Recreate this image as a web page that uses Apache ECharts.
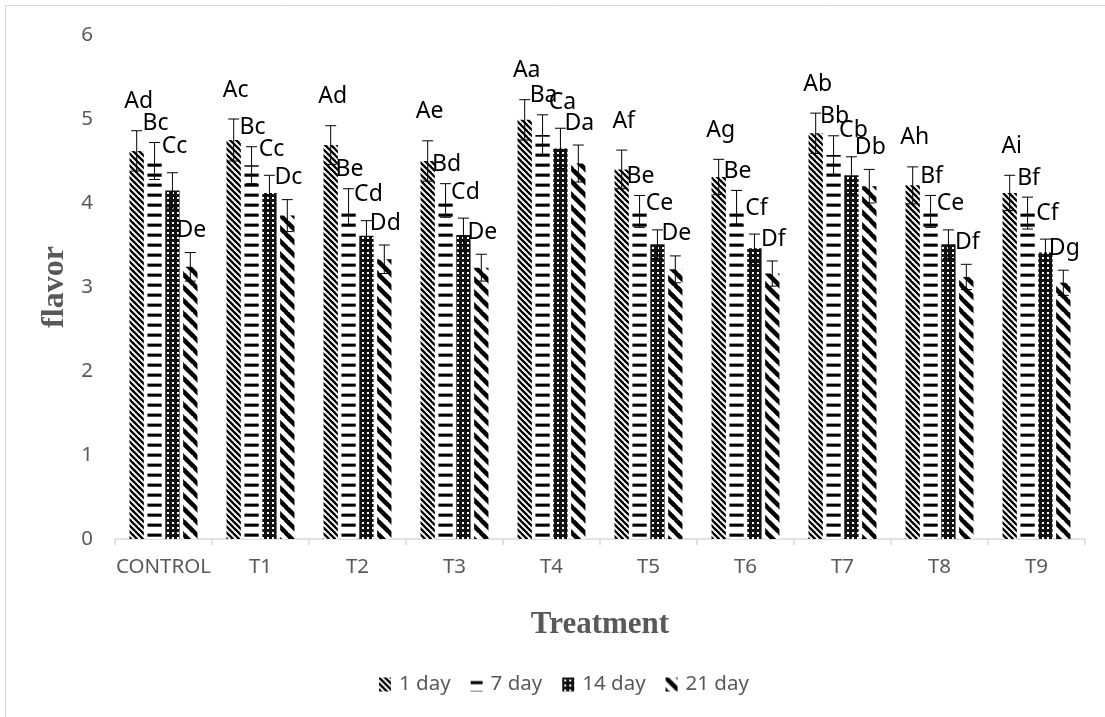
<!DOCTYPE html>
<html>
<head>
<meta charset="utf-8">
<script src="https://cdn.jsdelivr.net/npm/echarts@6/dist/echarts.min.js"></script>
<style>
html,body{margin:0;padding:0;background:#fff;}
#chart{width:1105px;height:717px;}
</style>
</head>
<body>
<div id="chart"></div>
<script>
// ---- data ----
var categories = ['CONTROL','T1','T2','T3','T4','T5','T6','T7','T8','T9'];
var seriesNames = ['1 day','7 day','14 day','21 day'];
var day1  = [4.62, 4.75, 4.69, 4.50, 4.99, 4.40, 4.31, 4.83, 4.21, 4.12];
var day7  = [4.50, 4.45, 3.95, 4.03, 4.81, 3.90, 3.95, 4.57, 3.90, 3.88];
var day14 = [4.15, 4.12, 3.61, 3.62, 4.65, 3.51, 3.46, 4.33, 3.51, 3.41];
var day21 = [3.24, 3.85, 3.33, 3.23, 4.47, 3.21, 3.16, 4.20, 3.12, 3.05];
var err1  = [0.24, 0.25, 0.23, 0.24, 0.24, 0.23, 0.21, 0.24, 0.22, 0.21];
var err7  = [0.22, 0.22, 0.22, 0.20, 0.24, 0.19, 0.20, 0.23, 0.19, 0.19];
var err14 = [0.21, 0.21, 0.18, 0.20, 0.24, 0.17, 0.17, 0.22, 0.17, 0.16];
var err21 = [0.17, 0.19, 0.17, 0.16, 0.22, 0.16, 0.15, 0.20, 0.15, 0.15];
var labels1  = ['Ad','Ac','Ad','Ae','Aa','Af','Ag','Ab','Ah','Ai'];
var labels7  = ['Bc','Bc','Be','Bd','Ba','Be','Be','Bb','Bf','Bf'];
var labels14 = ['Cc','Cc','Cd','Cd','Ca','Ce','Cf','Cb','Ce','Cf'];
var labels21 = ['De','Dc','Dd','De','Da','De','Df','Db','Df','Dg'];
var yTicks = [0, 1, 2, 3, 4, 5, 6];

var values = [day1, day7, day14, day21];
var errors = [err1, err7, err14, err21];
var labels = [labels1, labels7, labels14, labels21];

// ---- patterns ----
function diagPattern(size, lw) {
  var c = document.createElement('canvas');
  c.width = size; c.height = size;
  var ctx = c.getContext('2d');
  ctx.fillStyle = '#fff'; ctx.fillRect(0, 0, size, size);
  ctx.strokeStyle = '#000'; ctx.lineWidth = lw;
  [-size, 0, size].forEach(function (o) {
    ctx.beginPath(); ctx.moveTo(o - 1, -1); ctx.lineTo(o + size + 1, size + 1); ctx.stroke();
  });
  return c;
}
function hPattern() {
  var c = document.createElement('canvas');
  c.width = 16; c.height = 10;
  var ctx = c.getContext('2d');
  ctx.fillStyle = '#fff'; ctx.fillRect(0, 0, 16, 10);
  ctx.fillStyle = '#999'; ctx.fillRect(0, 3, 16, 4);
  ctx.fillStyle = '#000'; ctx.fillRect(0, 4, 16, 2.5);
  return c;
}
function gridPattern() {
  var c = document.createElement('canvas');
  c.width = 5; c.height = 5;
  var ctx = c.getContext('2d');
  ctx.fillStyle = '#111'; ctx.fillRect(0, 0, 5, 5);
  ctx.fillStyle = '#fff'; ctx.fillRect(2, 2, 2, 2);
  return c;
}
var patterns = [
  {image: diagPattern(6, 2.3), repeat: 'repeat'},
  {image: hPattern(), repeat: 'repeat'},
  {image: gridPattern(), repeat: 'repeat'},
  {image: diagPattern(13, 4.5), repeat: 'repeat'}
];

var labelLift = [29, 19, 26, 22];
var labelShift = [2, 1, 2, 1];

var chart = echarts.init(document.getElementById('chart'), null, {renderer: 'canvas'});

var series = [];
seriesNames.forEach(function (name, s) {
  series.push({
    name: name,
    type: 'bar',
    data: values[s],
    barGap: '25%',
    barCategoryGap: '30%',
    itemStyle: {color: patterns[s]},
    emphasis: {disabled: true},
    z: 2
  });
});
seriesNames.forEach(function (name, s) {
  series.push({
    name: name + ' err',
    type: 'custom',
    z: 5,
    silent: true,
    data: values[s].map(function (v, i) { return [i, v, errors[s][i]]; }),
    renderItem: function (params, api) {
      var i = api.value(0), v = api.value(1), e = api.value(2);
      var c = api.coord([i, v]);
      var top = api.coord([i, v + e]);
      var bot = api.coord([i, v - e]);
      var catW = api.size([1, 0])[0];
      var barW = catW * 0.7 / 4.75;
      var gap = barW * 0.25;
      var x = c[0] - catW * 0.35 + barW / 2 + s * (barW + gap);
      var hw = 5.5;
      var ls = {stroke: '#000', lineWidth: 1};
      return {
        type: 'group',
        children: [
          {type: 'line', shape: {x1: x, y1: top[1], x2: x, y2: bot[1]}, style: ls},
          {type: 'line', shape: {x1: x - hw, y1: top[1], x2: x + hw, y2: top[1]}, style: ls},
          {type: 'line', shape: {x1: x - hw, y1: bot[1], x2: x + hw, y2: bot[1]}, style: ls},
          {type: 'text', style: {
            text: labels[s][params.dataIndex],
            x: x + labelShift[s], y: top[1] - labelLift[s],
            align: 'center', verticalAlign: 'middle',
            fontSize: 23, fontFamily: 'Noto Sans', fill: '#000'
          }}
        ]
      };
    }
  });
});

chart.setOption({
  animation: false,
  backgroundColor: '#fff',
  grid: {left: 115, right: 20, top: 35, bottom: 178, containLabel: false},
  legend: {
    data: seriesNames,
    left: 374, top: 669,
    icon: 'rect',
    itemWidth: 12, itemHeight: 14,
    itemGap: 20,
    textStyle: {fontSize: 20.5, color: '#595959', fontFamily: 'Noto Sans', padding: [0, 0, 0, 3]}
  },
  xAxis: {
    type: 'category',
    data: categories,
    name: 'Treatment',
    nameLocation: 'middle',
    nameGap: 70,
    nameTextStyle: {fontFamily: 'Liberation Serif', fontWeight: 'bold', fontSize: 31, color: '#595959'},
    axisLine: {lineStyle: {color: '#d9d9d9', width: 1.5}},
    axisTick: {show: true, alignWithLabel: false, length: 6, lineStyle: {color: '#d9d9d9', width: 1.5}},
    axisLabel: {fontSize: 20.5, color: '#595959', fontFamily: 'Noto Sans', margin: 18, interval: 0}
  },
  yAxis: {
    type: 'value',
    min: yTicks[0], max: yTicks[yTicks.length - 1], interval: 1,
    name: 'flavor',
    nameLocation: 'middle',
    nameGap: 44,
    nameRotate: 90,
    nameTextStyle: {fontFamily: 'Liberation Serif', fontWeight: 'bold', fontSize: 32, color: '#595959'},
    axisLine: {show: false},
    axisTick: {show: false},
    splitLine: {show: false},
    axisLabel: {fontSize: 20.5, color: '#595959', fontFamily: 'Noto Sans', margin: 22}
  },
  graphic: [
    {type: 'line', shape: {x1: 5.5, y1: 5.5, x2: 5.5, y2: 717}, style: {stroke: '#d9d9d9', lineWidth: 1}, silent: true},
    {type: 'line', shape: {x1: 5.5, y1: 5.5, x2: 1105, y2: 5.5}, style: {stroke: '#d9d9d9', lineWidth: 1}, silent: true}
  ],
  series: series
});
</script>
</body>
</html>
